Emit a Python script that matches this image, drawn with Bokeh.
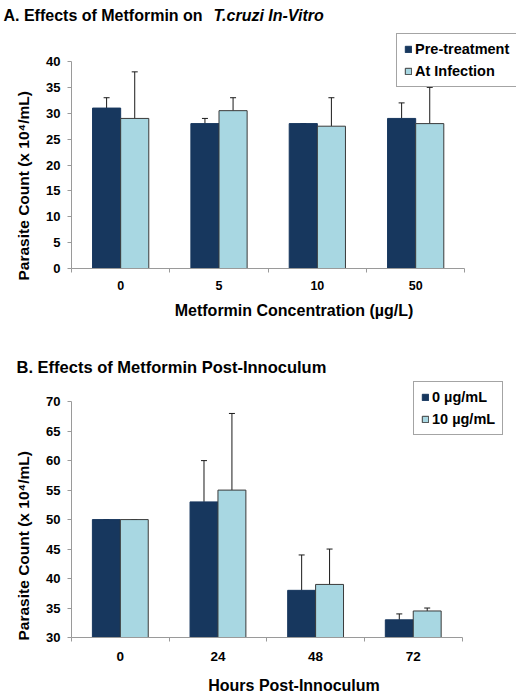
from bokeh.plotting import figure
from bokeh.models import (Range1d, FixedTicker, Label, Legend, LegendItem,
                          Whisker, TeeHead, ColumnDataSource, Title)
from bokeh.layouts import column
from bokeh.embed import file_html
from bokeh.resources import INLINE

# ---------------- Panel A data ----------------
a_title_plain = "A. Effects of Metformin on "
a_title_italic = "T.cruzi In-Vitro"
a_categories = ["0", "5", "10", "50"]
a_series_names = ["Pre-treatment", "At Infection"]
a_pretreatment = [31, 28, 28, 29]
a_pretreatment_err = [2, 1, 0, 3]
a_infection = [29, 30.5, 27.5, 28]
a_infection_err = [9, 2.5, 5.5, 7]
a_yticks = [0, 5, 10, 15, 20, 25, 30, 35, 40]

# ---------------- Panel B data ----------------
b_title = "B. Effects of Metformin Post-Innoculum"
b_categories = ["0", "24", "48", "72"]
b_series_names = ["0 \u00b5g/mL", "10 \u00b5g/mL"]
b_control = [50, 53, 38, 33]
b_control_err = [0, 7, 6, 1]
b_treated = [50, 55, 39, 34.5]
b_treated_err = [0, 13, 6, 0.5]
b_yticks = [30, 35, 40, 45, 50, 55, 60, 65, 70]

DARK = "#17375E"
LIGHT = "#A8D7E2"
EDGE = "#3A3A3A"
AXIS = "#9A9A9A"
FONT = "Liberation Sans"
YLABEL = "Parasite Count (x 10\u2074/mL)"


def make_panel(cats, s1, e1, s2, e2, names, yticks, width, height,
               b_left, b_top, b_bottom, px_per_cat, px_per_unit,
               xlabel, xtick_size, xtick_standoff, xlabel_standoff,
               legend_loc, ylabel_shift):
    n = len(cats)
    frame_w = width - b_left
    frame_h = height - b_top - b_bottom
    x_end = frame_w / px_per_cat
    y_end = yticks[0] + frame_h / px_per_unit
    p = figure(width=width, height=height, output_backend="svg",
               toolbar_location=None, x_range=Range1d(0, x_end),
               y_range=Range1d(yticks[0], y_end),
               min_border_left=b_left, min_border_right=0,
               min_border_top=b_top, min_border_bottom=b_bottom)
    p.outline_line_color = None
    p.xgrid.visible = False
    p.ygrid.visible = False

    bw = 0.286
    x1 = [i + 0.5 - bw / 2 for i in range(n)]
    x2 = [i + 0.5 + bw / 2 for i in range(n)]
    base = yticks[0]
    r1 = p.vbar(x=x1, top=s1, bottom=base, width=bw, fill_color=DARK,
                line_color=DARK, line_width=1)
    r2 = p.vbar(x=x2, top=s2, bottom=base, width=bw, fill_color=LIGHT,
                line_color=EDGE, line_width=1)

    for xs, vals, errs in ((x1, s1, e1), (x2, s2, e2)):
        src = ColumnDataSource(dict(x=xs, lo=vals,
                                    hi=[v + e for v, e in zip(vals, errs)]))
        w = Whisker(base="x", lower="lo", upper="hi", source=src,
                    dimension="height", line_color="#1a1a1a", line_width=1,
                    lower_head=None,
                    upper_head=TeeHead(size=6, line_color="#1a1a1a",
                                       line_width=1))
        p.add_layout(w)

    # x axis: labels at centres, ticks at category boundaries
    xa = p.xaxis[0]
    xa.bounds = (0, n)
    xa.ticker = FixedTicker(ticks=[i + 0.5 for i in range(n)],
                            minor_ticks=list(range(n + 1)))
    xa.major_label_overrides = {i + 0.5: c for i, c in enumerate(cats)}
    xa.major_tick_out = 0
    xa.major_tick_in = 0
    xa.minor_tick_out = 4
    xa.minor_tick_in = 0
    xa.minor_tick_line_color = AXIS
    xa.axis_line_color = AXIS
    xa.major_label_text_font = FONT
    xa.major_label_text_font_style = "bold"
    xa.major_label_text_font_size = xtick_size
    xa.major_label_text_color = "#000000"
    xa.major_label_standoff = xtick_standoff
    xa.axis_label = xlabel
    xa.axis_label_text_font = FONT
    xa.axis_label_text_font_style = "bold"
    xa.axis_label_text_font_size = "16px"
    xa.axis_label_text_color = "#000000"
    xa.axis_label_standoff = xlabel_standoff

    ya = p.yaxis[0]
    ya.bounds = (yticks[0], yticks[-1])
    ya.ticker = FixedTicker(ticks=yticks)
    ya.major_tick_out = 4
    ya.major_tick_in = 0
    ya.major_tick_line_color = AXIS
    ya.minor_tick_line_color = None
    ya.axis_line_color = AXIS
    ya.major_label_text_font = FONT
    ya.major_label_text_font_style = "bold"
    ya.major_label_text_font_size = "13px"
    ya.major_label_text_color = "#000000"
    ya.major_label_standoff = 7

    # y axis title, starting near the bottom of the axis like the reference
    p.add_layout(Title(text=YLABEL, align="left", offset=ylabel_shift,
                       standoff=24, text_font=FONT, text_font_style="bold",
                       text_font_size="15.5px", text_color="#000000"),
                 "left")

    legend = Legend(items=[LegendItem(label=names[0], renderers=[r1]),
                           LegendItem(label=names[1], renderers=[r2])],
                    location=legend_loc, orientation="vertical",
                    border_line_color="#4a4a4a", border_line_width=1,
                    background_fill_color="white", background_fill_alpha=1,
                    label_text_font=FONT, label_text_font_style="bold",
                    label_text_font_size="14.5px", label_text_color="#000000",
                    glyph_width=8, glyph_height=8, label_standoff=3,
                    padding=7, spacing=6, margin=0, label_height=15,
                    label_width=60)
    p.add_layout(legend)
    return p


# title row of panel A (mixed upright / italic text)
ta = figure(width=516, height=24, output_backend="svg", toolbar_location=None,
            x_range=Range1d(0, 516), y_range=Range1d(0, 24),
            x_axis_type=None, y_axis_type=None,
            min_border_left=0, min_border_right=0,
            min_border_top=0, min_border_bottom=0)
ta.frame_align = False
ta.outline_line_color = None
ta.xgrid.visible = False
ta.ygrid.visible = False
ta.add_layout(Label(x=3, y=9, x_units="screen", y_units="screen",
                    text=a_title_plain, text_font=FONT,
                    text_font_style="bold", text_font_size="16px",
                    text_baseline="alphabetic", text_color="#000000"))
ta.add_layout(Label(x=213, y=9, x_units="screen", y_units="screen",
                    text=a_title_italic, text_font=FONT,
                    text_font_style="bold italic", text_font_size="16px",
                    text_baseline="alphabetic", text_color="#000000"))

pa = make_panel(a_categories, a_pretreatment, a_pretreatment_err,
                a_infection, a_infection_err, a_series_names, a_yticks,
                516, 306, 68, 0, 62, 99.0, 5.175,
                "Metformin Concentration (\u00b5g/L)", "12.5px", 8, 9,
                (325, 181), -12)

pb = make_panel(b_categories, b_control, b_control_err,
                b_treated, b_treated_err, b_series_names, b_yticks,
                516, 366, 68, 40, 57, 98.3, 5.94,
                "Hours Post-Innoculum", "13.5px", 10, 13, (342, 202), -3)
pb.add_layout(Label(x=-55, y=4, x_units="screen", y_units="screen",
                    text=b_title,
                    text_font=FONT, text_font_style="bold",
                    text_font_size="16.5px", text_baseline="alphabetic",
                    text_color="#000000"),
              "above")

layout = column(ta, pa, pb, spacing=0)
open("out.html", "w").write(file_html(layout, INLINE))
